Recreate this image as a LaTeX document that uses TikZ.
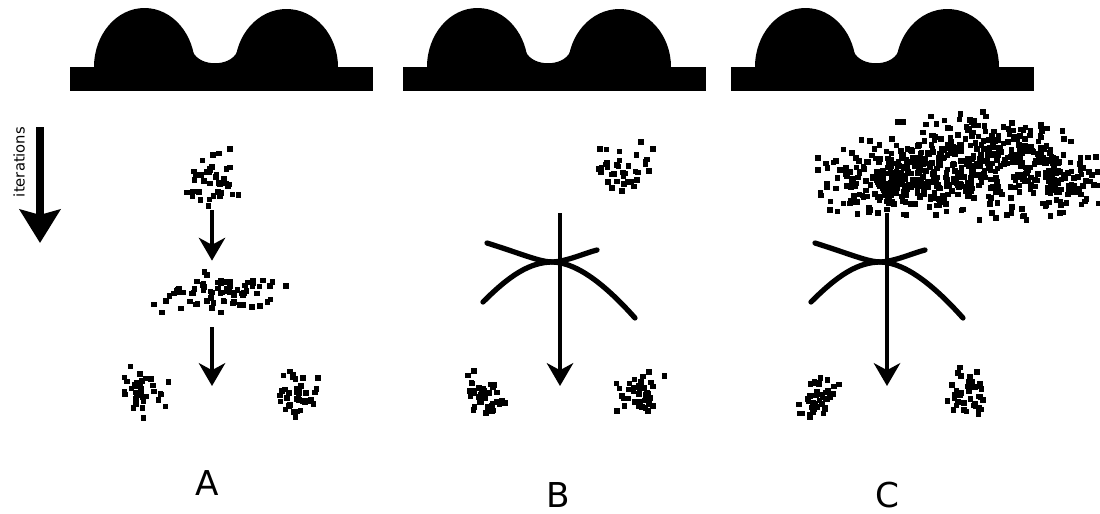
\documentclass[tikz,border=0pt]{standalone}
\usepackage{fontspec}
\setmainfont{DejaVu Sans}
\usetikzlibrary{arrows.meta,calc}

% scatter of small square dots round a point
% #1 centre, #2 number of dots, #3/#4 spread in x/y, #5 seed
\newcommand\dotcloud[5]{%
  \pgfmathsetseed{#5}
  \begin{scope}[shift={#1}]
    \foreach \k in {1,...,#2}{
      \pgfmathsetmacro\rx{#3*(rand+rand)/2}
      \pgfmathsetmacro\ry{#4*(rand+rand)/2}
      \fill (\rx-2.8,\ry-2.8) rectangle ++(5.6,5.6);
    }
  \end{scope}}

\begin{document}
\begin{tikzpicture}[x=0.02cm,y=-0.02cm,
    swarm/.style={inner sep=0pt,minimum width=1cm,minimum height=1.32cm},
    flow/.style={line width=2.4pt,-{Stealth[length=13pt,width=15pt,inset=4pt]}},
    ridge/.style={line width=3pt,line cap=round},
    panel/.style={inner sep=0pt,font=\fontsize{19.5}{22}\selectfont}]
    \useasboundingbox (0,0) rectangle (1100,514);

    % the double-well landscape over each column
    \foreach \dx in {0,333,661}{
      \begin{scope}[shift={(\dx,0)}]
        \fill (70,67) rectangle (373,91);
        \begin{scope}
          \clip (70,0) rectangle (373,68);
          \fill (144.5,67) ellipse [x radius=50.5, y radius=59];
          \fill (286.5,67) ellipse [x radius=51.5, y radius=58];
          \fill (193,52) .. controls (200,67) and (230,67) .. (237,52)
            -- (237,68) -- (193,68) -- cycle;
        \end{scope}
      \end{scope}
    }

    % iterations axis
    \node[rotate=90,font=\fontsize{8.4}{10}\selectfont] (iter) at (19,162) {iterations};
    \coordinate (itop) at (40,127);
    \coordinate (ibot) at (40,243);
    \draw[line width=4pt,-{Stealth[length=19pt,width=23pt,inset=3pt]}] (itop) -- (ibot);

    % A
    \node[swarm] (Atop) at (212,177) {};
    \node[swarm] (Amid) at (212,294) {};
    \node[swarm] (Aleft) at (145,392) {};
    \node[swarm] (Aright) at (297,392) {};
    \coordinate (Aend) at (212,386);
    \dotcloud{(Atop)}{38}{34}{34}{11}
    \dotcloud{($(Amid)+(6,-2)$)}{75}{72}{24}{12}
    \dotcloud{(Aleft)}{38}{25}{28}{13}
    \dotcloud{(Aright)}{38}{25}{26}{14}
    \draw[flow] (Atop) -- (Amid);
    \draw[flow] (Amid) -- (Aend);
    \node[panel] (labA) at (207,483) {A};

    % B
    \node[swarm] (Btop) at (625,170) {};
    \node[swarm] (Bleft) at (488,393) {};
    \node[swarm] (Bright) at (640,393) {};
    \coordinate (Bstart) at (560,213);
    \coordinate (Bend) at (560,386);
    \dotcloud{(Btop)}{38}{36}{30}{15}
    \dotcloud{(Bleft)}{38}{25}{28}{16}
    \dotcloud{(Bright)}{38}{25}{26}{17}
    \draw[flow] (Bstart) -- (Bend);
    \node[panel] (labB) at (558,495) {B};

    % C
    \coordinate (Ctop) at (960,170);
    \node[swarm] (Cleft) at (817,393) {};
    \node[swarm] (Cright) at (967,393) {};
    \coordinate (Cstart) at (887,213);
    \coordinate (Cend) at (887,386);
    \dotcloud{($(Ctop)+(-70,8)$)}{230}{75}{42}{21}
    \dotcloud{($(Ctop)+(20,-5)$)}{330}{95}{57}{22}
    \dotcloud{($(Ctop)+(100,10)$)}{110}{52}{42}{23}
    \dotcloud{(Cleft)}{38}{25}{28}{24}
    \dotcloud{(Cright)}{38}{25}{26}{25}
    \draw[flow] (Cstart) -- (Cend);
    \node[panel] (labC) at (887,495) {C};

    % crossing curves in B and C
    \foreach \dx in {0,328}{
      \begin{scope}[shift={(\dx,0)}]
        \draw[ridge] (487,243) .. controls (525,255) and (540,262) .. (553,262)
          .. controls (568,261) and (585,253) .. (597,250);
        \draw[ridge] (483,302) .. controls (510,275) and (530,262) .. (553,262)
          .. controls (580,263) and (610,290) .. (635,318);
      \end{scope}
    }
\end{tikzpicture}
\end{document}
